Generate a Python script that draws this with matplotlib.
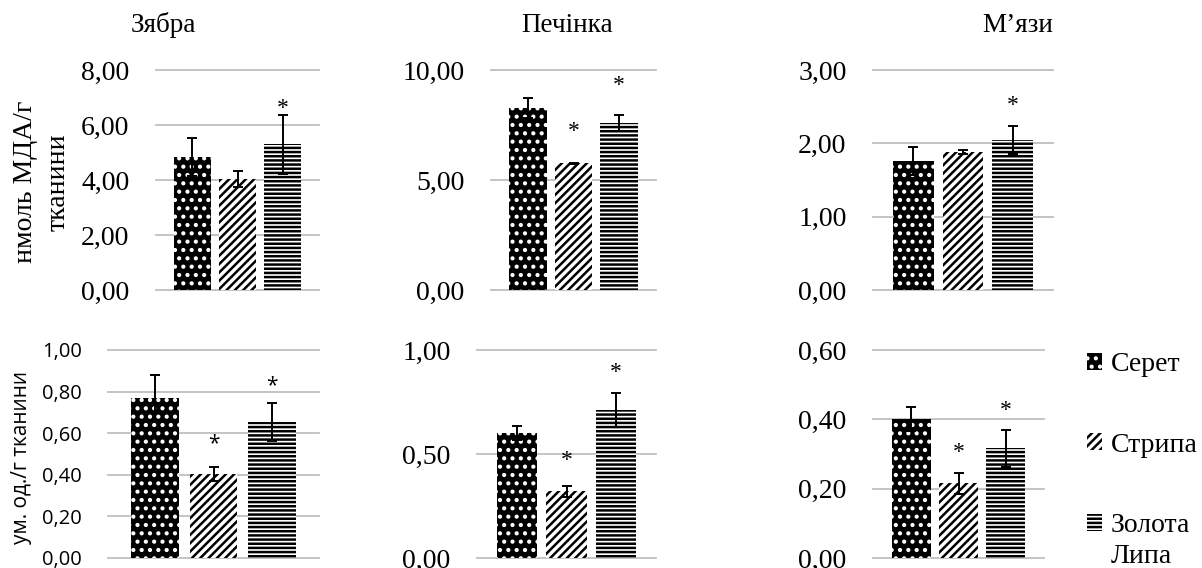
import numpy as np
import matplotlib
matplotlib.use("Agg")
import matplotlib.pyplot as plt

# data
groups = ["Серет", "Стрипа", "Золота Липа"]
titles = ["Зябра", "Печінка", "М’язи"]

mda_mean = [[4.82, 4.02, 5.30],
            [8.26, 5.76, 7.58],
            [1.755, 1.88, 2.04]]
mda_err = [[0.69, 0.29, 1.07],
           [0.45, 0.03, 0.36],
           [0.19, 0.03, 0.19]]
mda_star = [[np.nan, np.nan, 6.60],
            [np.nan, 7.22, 9.28],
            [np.nan, np.nan, 2.52]]
mda_ticks = [[0, 2, 4, 6, 8], [0, 5, 10], [0, 1, 2, 3]]

ox_mean = [[0.768, 0.403, 0.653],
           [0.60, 0.32, 0.711],
           [0.40, 0.215, 0.316]]
ox_err = [[0.11, 0.034, 0.09],
          [0.035, 0.027, 0.08],
          [0.035, 0.03, 0.053]]
ox_star = [[np.nan, 0.55, 0.83],
           [np.nan, 0.47, 0.89],
           [np.nan, 0.305, 0.425]]
ox_ticks = [[0, 0.2, 0.4, 0.6, 0.8, 1.0], [0, 0.5, 1.0], [0, 0.2, 0.4, 0.6]]

SERIF = "Liberation Serif"
SANS = "Open Sans"
plt.rcParams["font.family"] = SERIF
plt.rcParams["hatch.linewidth"] = 1.8

W, H = 1202, 568
fig = plt.figure(figsize=(W / 100, H / 100), dpi=100)

# axes boxes in pixels: left, right, top, bottom
boxes_top = [(156, 319, 70, 290), (491, 656, 70, 290), (873, 1053, 70, 290)]
boxes_bot = [(108, 319, 350, 558), (477, 656, 350, 558), (873, 1044, 350, 558)]

styles = [dict(facecolor="black", edgecolor="white", hatch="..", linewidth=0),
          dict(facecolor="white", edgecolor="black", hatch="////", linewidth=0),
          dict(facecolor="white", edgecolor="black", hatch="----", linewidth=0)]


def add_ax(box):
    l, r, t, b = box
    return fig.add_axes([l / W, 1 - b / H, (r - l) / W, (b - t) / H])


def panel(ax, means, errs, stars, ticks, font, tsize, ssize):
    x = np.arange(3)
    bars = []
    for i in range(3):
        b = ax.bar(x[i], means[i], width=0.82, label=groups[i], zorder=2, **styles[i])
        bars.append(b)
        ax.errorbar(x[i], means[i], yerr=errs[i], fmt="none", ecolor="black",
                    elinewidth=1.4, capsize=3.5, capthick=1.4, zorder=3)
        if not np.isnan(stars[i]):
            ax.text(x[i], stars[i], "*", ha="center", va="center",
                    fontsize=ssize, family=font, zorder=4)
    ax.set_xlim(-0.81, 2.81)
    ax.set_ylim(0, ticks[-1])
    ax.set_yticks(ticks)
    dec = [f"{v:.2f}".replace(".", ",") for v in ticks]
    ax.set_yticklabels(dec, family=font, fontsize=tsize)
    ax.tick_params(axis="y", length=0, pad=19)
    ax.set_xticks([])
    for s in ax.spines.values():
        s.set_visible(False)
    ax.yaxis.grid(True, color="#bfbfbf", linewidth=1.3, zorder=0)
    ax.set_axisbelow(True)
    for yl in ax.yaxis.get_gridlines():
        yl.set_clip_on(False)
    return bars


for k in range(3):
    ax = add_ax(boxes_top[k])
    bars = panel(ax, mda_mean[k], mda_err[k], mda_star[k], mda_ticks[k], SERIF, 20, 17)

for k in range(3):
    ax = add_ax(boxes_bot[k])
    if k == 0:
        bars = panel(ax, ox_mean[k], ox_err[k], ox_star[k], ox_ticks[k], SANS, 14.5, 15)
    else:
        bars = panel(ax, ox_mean[k], ox_err[k], ox_star[k], ox_ticks[k], SERIF, 20, 17)

# panel titles
for t, cx in zip(titles, [163, 567, 1018]):
    fig.text(cx / W, 1 - 25 / H, t, ha="center", va="center", fontsize=19.5)

# y labels
fig.text(42 / W, 1 - 182 / H, "нмоль МДА/г\nтканини", rotation=90, ha="center",
         va="center", fontsize=20, linespacing=1.4, multialignment="center")
fig.text(22 / W, 1 - 457 / H, "ум. од./г тканини", rotation=90, ha="center",
         va="center", fontsize=15, family=SANS)

# legend; the last label wraps onto a second line under its first word
first, second = groups[2].split(" ")
leg = fig.legend(handles=bars, labels=groups[:2] + [first], loc="upper left",
                 bbox_to_anchor=(1087 / W, 1 - 352 / H), frameon=False, fontsize=20,
                 handlelength=0.55, handleheight=0.55, handletextpad=0.3,
                 labelspacing=2.0, borderpad=0, borderaxespad=0)
fig.canvas.draw()
ext = leg.get_texts()[2].get_window_extent()
fig.text(ext.x0 / W, ext.y0 / H - 31 / H, second, ha="left", va="bottom", fontsize=20)

fig.savefig("out.png", dpi=100)
